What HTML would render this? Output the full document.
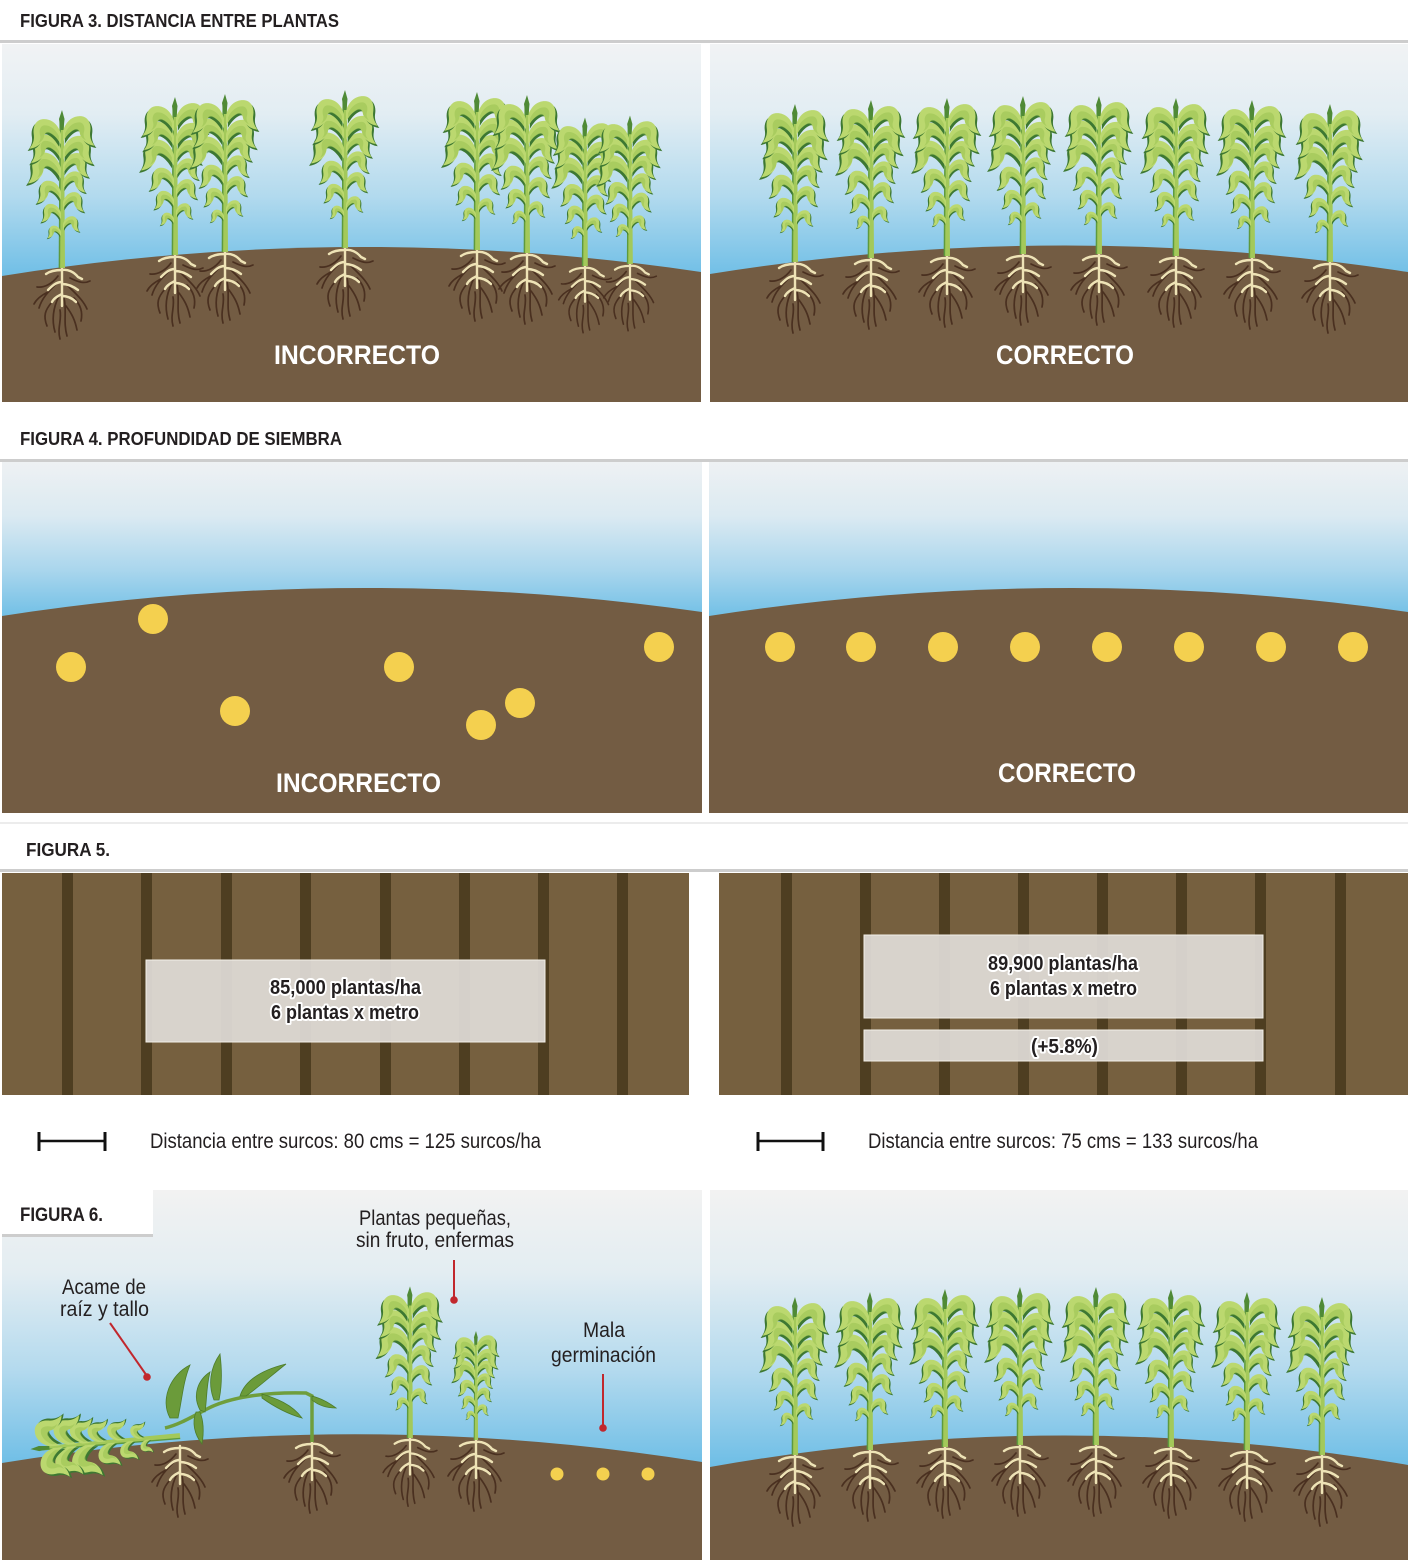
<!DOCTYPE html>
<html>
<head>
<meta charset="utf-8">
<style>
  html,body{margin:0;padding:0;background:#fff;}
  svg{display:block;}
  .hd{font-family:"Liberation Sans",sans-serif;font-weight:bold;fill:#231f20;}
  .big{font-family:"Liberation Sans",sans-serif;font-weight:bold;fill:#fff;}
  .lb{font-family:"Liberation Sans",sans-serif;fill:#231f20;}
  .halo{font-family:"Liberation Sans",sans-serif;font-weight:bold;fill:#231f20;stroke:#fff;stroke-width:4;stroke-linejoin:round;paint-order:stroke;}
</style>
</head>
<body>
<svg width="1408" height="1560" viewBox="0 0 1408 1560" xmlns="http://www.w3.org/2000/svg">
<defs>
  <linearGradient id="sky3" gradientUnits="userSpaceOnUse" x1="0" y1="44" x2="0" y2="278">
    <stop offset="0" stop-color="#f1f3f4"/>
    <stop offset="0.3" stop-color="#e2edf3"/>
    <stop offset="0.65" stop-color="#b2daee"/>
    <stop offset="1" stop-color="#6ebee6"/>
  </linearGradient>
  <linearGradient id="sky4" gradientUnits="userSpaceOnUse" x1="0" y1="462" x2="0" y2="616">
    <stop offset="0" stop-color="#eef1f3"/>
    <stop offset="0.35" stop-color="#dbeaf2"/>
    <stop offset="0.7" stop-color="#aad6ed"/>
    <stop offset="1" stop-color="#72c0e6"/>
  </linearGradient>
  <linearGradient id="sky6" gradientUnits="userSpaceOnUse" x1="0" y1="1190" x2="0" y2="1466">
    <stop offset="0" stop-color="#f2f2f2"/>
    <stop offset="0.3" stop-color="#e3edf2"/>
    <stop offset="0.65" stop-color="#b4daee"/>
    <stop offset="1" stop-color="#6ebee6"/>
  </linearGradient>

  <path id="lf" d="M0,0 C3,-10 10,-15 18,-14 C24,-13 27,-7 26,0 C25,6 27,10 30,14 C22,13 17,8 16,2 C15,-2 13,-3 10,-1 C6,1 3,5 0,10 Z"/>
  <path id="lfm" d="M2,2 C6,-6 12,-9 17,-8 C20,-7 21,-3 20,1 C19,4 20,7 22,9 C18,7 16,4 16,1 C15,-1 12,-2 9,0 C6,2 4,4 2,6 Z"/>
  <g id="leafR">
    <use href="#lf" transform="translate(1.8,2.2)" fill="#3d7832"/>
    <use href="#lf" fill="#bbd86f"/>
    <use href="#lfm" fill="#9cc455" opacity="0.6"/>
  </g>
  <g id="leafL" transform="scale(-1,1)">
    <use href="#lf" transform="translate(1.8,2.2)" fill="#3d7832"/>
    <use href="#lf" fill="#bbd86f"/>
    <use href="#lfm" fill="#9cc455" opacity="0.6"/>
  </g>

  <g id="top">
    <path d="M-3,0 L-2,-146 L2,-146 L3,0 Z" fill="#a3c95a"/>
    <path d="M-2.6,0 L-1.8,-146" stroke="#5e9a3e" stroke-width="1.5"/>
    <use href="#leafL" transform="translate(-1,-36) scale(0.45)"/>
    <use href="#leafR" transform="translate(1,-44) scale(0.55)"/>
    <use href="#leafL" transform="translate(-1,-55) scale(0.65)"/>
    <use href="#leafR" transform="translate(1,-66) scale(0.7)"/>
    <use href="#leafL" transform="translate(-1,-76) scale(0.8)"/>
    <use href="#leafR" transform="translate(1,-86) scale(0.75)"/>
    <use href="#leafR" transform="translate(1,-103) scale(0.85)"/>
    <use href="#leafL" transform="translate(-1,-100) scale(1.1)"/>
    <use href="#leafR" transform="translate(1,-118) scale(1.0)"/>
    <use href="#leafL" transform="translate(-1,-119) scale(1.0)"/>
    <use href="#leafL" transform="translate(-1,-134) scale(1.05)"/>
    <use href="#leafR" transform="translate(1,-137) scale(1.05)"/>
    <path d="M-1.5,-138 L-3,-149 L0,-158 L2.5,-149 L1.5,-138 Z" fill="#4f8a36"/>
  </g>

  <g id="roots" fill="none" stroke-linecap="round">
    <g stroke="#4a3020" stroke-width="1.7">
      <path d="M-4,8 C-10,16 -18,20 -25,19"/>
      <path d="M-6,16 C-14,24 -20,30 -23,40"/>
      <path d="M-3,28 C-8,38 -11,50 -7,64"/>
      <path d="M2,30 C5,42 1,54 5,68"/>
      <path d="M6,18 C14,26 21,32 25,41"/>
      <path d="M8,10 C16,14 22,16 28,13"/>
      <path d="M4,38 C10,46 13,52 15,62"/>
      <path d="M-2,42 C0,52 -5,60 -2,71"/>
      <path d="M-10,34 C-17,42 -19,48 -15,58"/>
      <path d="M12,30 C18,36 21,44 19,53"/>
      <path d="M-14,24 C-22,28 -26,32 -28,36"/>
    </g>
    <g stroke="#eee3b6" stroke-width="2.4">
      <path d="M0,0 L0,38"/>
      <path d="M0,2 C-6,2 -12,3 -16,6"/>
      <path d="M0,2 C6,1 12,4 16,9 L20,11"/>
      <path d="M0,14 C-6,14 -10,18 -14,22"/>
      <path d="M0,16 C6,16 12,19 16,22"/>
      <path d="M0,26 C-4,28 -8,30 -10,34"/>
      <path d="M0,28 C6,28 10,30 14,34"/>
    </g>
  </g>

  <g id="plant">
    <use href="#roots"/>
    <use href="#top"/>
  </g>
</defs>

<!-- ================= FIGURA 3 ================= -->
<text class="hd" x="20" y="27" font-size="18" textLength="319" lengthAdjust="spacingAndGlyphs">FIGURA 3. DISTANCIA ENTRE PLANTAS</text>
<rect x="0" y="40" width="1408" height="3" fill="#cdcdcd"/>

<rect x="2" y="44" width="699" height="358" fill="url(#sky3)"/>
<path d="M2,276 Q351,220 701,272 L701,402 L2,402 Z" fill="#735c43"/>
<rect x="710" y="44" width="698" height="358" fill="url(#sky3)"/>
<path d="M710,274 Q1059,218 1408,272 L1408,402 L710,402 Z" fill="#735c43"/>

<use href="#plant" transform="translate(62,268)"/>
<use href="#plant" transform="translate(175,255)"/>
<use href="#plant" transform="translate(225,252)"/>
<use href="#plant" transform="translate(345,248)"/>
<use href="#plant" transform="translate(477,250)"/>
<use href="#plant" transform="translate(527,253)"/>
<use href="#plant" transform="translate(585,266) scale(0.94)"/>
<use href="#plant" transform="translate(630,264) scale(0.94)"/>

<use href="#plant" transform="translate(795,262)"/>
<use href="#plant" transform="translate(871,258)"/>
<use href="#plant" transform="translate(947,256)"/>
<use href="#plant" transform="translate(1023,254)"/>
<use href="#plant" transform="translate(1099,254)"/>
<use href="#plant" transform="translate(1176,256)"/>
<use href="#plant" transform="translate(1252,258)"/>
<use href="#plant" transform="translate(1330,262)"/>

<text class="big" x="274" y="364" font-size="27" textLength="166" lengthAdjust="spacingAndGlyphs">INCORRECTO</text>
<text class="big" x="996" y="364" font-size="27" textLength="138" lengthAdjust="spacingAndGlyphs">CORRECTO</text>

<!-- ================= FIGURA 4 ================= -->
<text class="hd" x="20" y="445" font-size="18" textLength="322" lengthAdjust="spacingAndGlyphs">FIGURA 4. PROFUNDIDAD DE SIEMBRA</text>
<rect x="0" y="459" width="1408" height="3" fill="#cdcdcd"/>

<rect x="2" y="462" width="700" height="351" fill="url(#sky4)"/>
<path d="M2,616 Q352,562 702,612 L702,813 L2,813 Z" fill="#735c43"/>
<rect x="709" y="462" width="699" height="351" fill="url(#sky4)"/>
<path d="M709,616 Q1059,562 1408,612 L1408,813 L709,813 Z" fill="#735c43"/>

<g fill="#f4d04f">
  <circle cx="153" cy="619" r="15"/>
  <circle cx="71" cy="667" r="15"/>
  <circle cx="235" cy="711" r="15"/>
  <circle cx="399" cy="667" r="15"/>
  <circle cx="481" cy="725" r="15"/>
  <circle cx="520" cy="703" r="15"/>
  <circle cx="659" cy="647" r="15"/>
  <circle cx="780" cy="647" r="15"/>
  <circle cx="861" cy="647" r="15"/>
  <circle cx="943" cy="647" r="15"/>
  <circle cx="1025" cy="647" r="15"/>
  <circle cx="1107" cy="647" r="15"/>
  <circle cx="1189" cy="647" r="15"/>
  <circle cx="1271" cy="647" r="15"/>
  <circle cx="1353" cy="647" r="15"/>
</g>

<text class="big" x="276" y="792" font-size="27" textLength="165" lengthAdjust="spacingAndGlyphs">INCORRECTO</text>
<text class="big" x="998" y="782" font-size="27" textLength="138" lengthAdjust="spacingAndGlyphs">CORRECTO</text>

<rect x="0" y="822" width="1408" height="2" fill="#ececec"/>

<!-- ================= FIGURA 5 ================= -->
<text class="hd" x="26" y="856" font-size="18" textLength="84" lengthAdjust="spacingAndGlyphs">FIGURA 5.</text>
<rect x="0" y="869" width="1408" height="3" fill="#cdcdcd"/>

<rect x="2" y="873" width="687" height="222" fill="#76603f"/>
<g fill="#4e3e21">
  <rect x="62" y="873" width="11" height="222"/>
  <rect x="141" y="873" width="11" height="222"/>
  <rect x="221" y="873" width="11" height="222"/>
  <rect x="300" y="873" width="11" height="222"/>
  <rect x="380" y="873" width="11" height="222"/>
  <rect x="459" y="873" width="11" height="222"/>
  <rect x="538" y="873" width="11" height="222"/>
  <rect x="617" y="873" width="11" height="222"/>
</g>
<rect x="719" y="873" width="689" height="222" fill="#76603f"/>
<g fill="#4e3e21">
  <rect x="781" y="873" width="11" height="222"/>
  <rect x="860" y="873" width="11" height="222"/>
  <rect x="939" y="873" width="11" height="222"/>
  <rect x="1018" y="873" width="11" height="222"/>
  <rect x="1097" y="873" width="11" height="222"/>
  <rect x="1176" y="873" width="11" height="222"/>
  <rect x="1255" y="873" width="11" height="222"/>
  <rect x="1335" y="873" width="11" height="222"/>
</g>

<rect x="146" y="960" width="399" height="82" fill="#e0dcd7" fill-opacity="0.93" stroke="#f2efe8" stroke-width="1"/>
<text class="halo" x="270" y="994" font-size="20" textLength="151" lengthAdjust="spacingAndGlyphs">85,000 plantas/ha</text>
<text class="halo" x="271" y="1019" font-size="20" textLength="148" lengthAdjust="spacingAndGlyphs">6 plantas x metro</text>

<rect x="864" y="935" width="399" height="83" fill="#e0dcd7" fill-opacity="0.93" stroke="#f2efe8" stroke-width="1"/>
<rect x="864" y="1030" width="399" height="31" fill="#e0dcd7" fill-opacity="0.93" stroke="#f2efe8" stroke-width="1"/>
<text class="halo" x="988" y="970" font-size="20" textLength="150" lengthAdjust="spacingAndGlyphs">89,900 plantas/ha</text>
<text class="halo" x="990" y="995" font-size="20" textLength="147" lengthAdjust="spacingAndGlyphs">6 plantas x metro</text>
<text class="halo" x="1031" y="1053" font-size="20" textLength="67" lengthAdjust="spacingAndGlyphs">(+5.8%)</text>

<g stroke="#111" fill="none">
  <line x1="39" y1="1141" x2="105" y2="1141" stroke-width="2.5"/>
  <line x1="39" y1="1132" x2="39" y2="1151" stroke-width="3"/>
  <line x1="105" y1="1132" x2="105" y2="1151" stroke-width="3"/>
  <line x1="758" y1="1141" x2="823" y2="1141" stroke-width="2.5"/>
  <line x1="758" y1="1132" x2="758" y2="1151" stroke-width="3"/>
  <line x1="823" y1="1132" x2="823" y2="1151" stroke-width="3"/>
</g>
<text class="lb" x="150" y="1148" font-size="21" fill="#2a2a2a" textLength="391" lengthAdjust="spacingAndGlyphs">Distancia entre surcos: 80 cms = 125 surcos/ha</text>
<text class="lb" x="868" y="1148" font-size="21" fill="#2a2a2a" textLength="390" lengthAdjust="spacingAndGlyphs">Distancia entre surcos: 75 cms = 133 surcos/ha</text>

<!-- ================= FIGURA 6 ================= -->
<rect x="2" y="1190" width="700" height="370" fill="url(#sky6)"/>
<path d="M2,1463 Q352,1406 702,1462 L702,1560 L2,1560 Z" fill="#735c43"/>
<rect x="710" y="1190" width="698" height="370" fill="url(#sky6)"/>
<path d="M710,1467 Q1059,1405 1408,1465 L1408,1560 L710,1560 Z" fill="#735c43"/>

<rect x="2" y="1190" width="151" height="44" fill="#ffffff"/>
<rect x="2" y="1234" width="151" height="3" fill="#cdcdcd"/>
<text class="hd" x="20" y="1221" font-size="19" textLength="83" lengthAdjust="spacingAndGlyphs">FIGURA 6.</text>

<!-- fallen plant -->
<use href="#roots" transform="translate(180,1446)"/>
<use href="#roots" transform="translate(312,1442)"/>
<use href="#top" transform="translate(180,1436) rotate(-95) scale(0.95)"/>
<path d="M312,1442 L312,1396 L306,1393 C270,1392 230,1396 205,1410 C190,1418 178,1425 165,1428" stroke="#6f9e3c" stroke-width="3.5" fill="none"/>
<g fill="#6b9b3a" stroke="#4d7d2c" stroke-width="0.8">
  <path d="M170,1418 C160,1400 170,1375 190,1365 C183,1382 182,1400 178,1418 Z"/>
  <path d="M200,1410 C192,1395 198,1380 210,1372 C206,1388 207,1400 205,1412 Z"/>
  <path d="M214,1400 C208,1385 210,1368 220,1354 C222,1370 222,1386 219,1400 Z"/>
  <path d="M240,1396 C245,1380 262,1370 286,1364 C272,1375 260,1386 246,1396 Z"/>
  <path d="M262,1394 C275,1398 292,1404 302,1418 C288,1414 276,1408 262,1398 Z"/>
  <path d="M312,1396 C320,1398 328,1402 336,1408 C326,1408 318,1405 312,1400 Z"/>
  <path d="M196,1412 C192,1422 194,1434 202,1444 C204,1432 204,1422 200,1412 Z"/>
</g>

<!-- small plants -->
<use href="#plant" transform="translate(410,1438) scale(0.96)"/>
<use href="#roots" transform="translate(476,1440)"/>
<use href="#top" transform="translate(476,1440) scale(0.69)"/>

<g fill="#f4d04f">
  <circle cx="557" cy="1474" r="6.5"/>
  <circle cx="603" cy="1474" r="6.5"/>
  <circle cx="648" cy="1474" r="6.5"/>
</g>

<!-- callouts -->
<g stroke="#c1272d" stroke-width="2" fill="#c1272d">
  <line x1="110" y1="1323" x2="147" y2="1376"/>
  <circle cx="147" cy="1377" r="3.8" stroke="none"/>
  <line x1="454" y1="1260" x2="454" y2="1299"/>
  <circle cx="454" cy="1300" r="3.8" stroke="none"/>
  <line x1="603" y1="1374" x2="603" y2="1427"/>
  <circle cx="603" cy="1428" r="3.8" stroke="none"/>
</g>
<text class="lb" x="62" y="1294" font-size="21" textLength="84" lengthAdjust="spacingAndGlyphs">Acame de</text>
<text class="lb" x="60" y="1316" font-size="21" textLength="89" lengthAdjust="spacingAndGlyphs">raíz y tallo</text>
<text class="lb" x="359" y="1225" font-size="21" textLength="152" lengthAdjust="spacingAndGlyphs">Plantas pequeñas,</text>
<text class="lb" x="356" y="1247" font-size="21" textLength="158" lengthAdjust="spacingAndGlyphs">sin fruto, enfermas</text>
<text class="lb" x="583" y="1337" font-size="21" textLength="42" lengthAdjust="spacingAndGlyphs">Mala</text>
<text class="lb" x="551" y="1362" font-size="21" textLength="105" lengthAdjust="spacingAndGlyphs">germinación</text>

<!-- right fig6 plants -->
<use href="#plant" transform="translate(795,1455)"/>
<use href="#plant" transform="translate(870,1450)"/>
<use href="#plant" transform="translate(945,1447)"/>
<use href="#plant" transform="translate(1020,1445)"/>
<use href="#plant" transform="translate(1096,1445)"/>
<use href="#plant" transform="translate(1171,1447)"/>
<use href="#plant" transform="translate(1247,1450)"/>
<use href="#plant" transform="translate(1322,1455)"/>
</svg>
</body>
</html>
